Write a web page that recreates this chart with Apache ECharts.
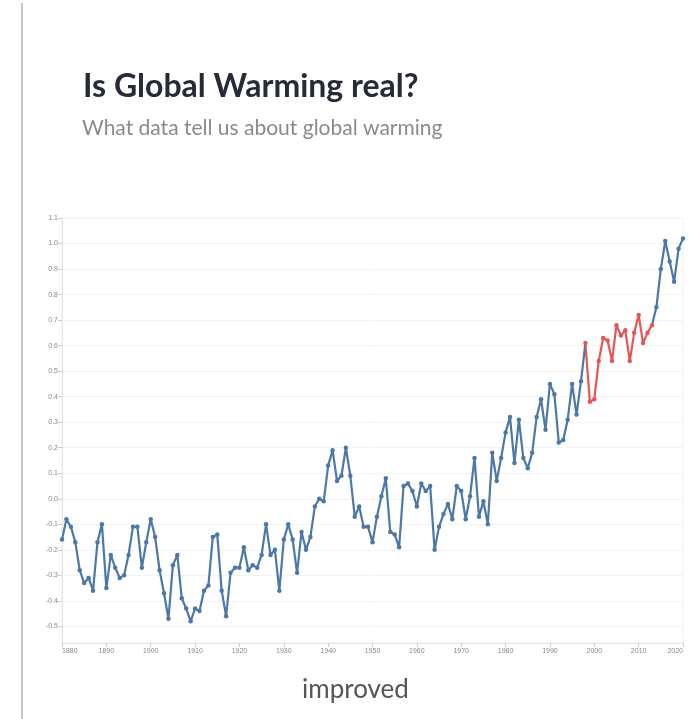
<!DOCTYPE html>
<html>
<head>
    <meta charset="utf-8">
    <script src="https://cdn.jsdelivr.net/npm/echarts@6/dist/echarts.min.js"></script>
    <style>
        html, body { margin: 0; padding: 0; background: #fff; }
    </style>
</head>
<body>
<div id="myChart" style="width: 692px; height: 719px;"></div>

<script type="text/javascript">
    var chart = echarts.init(document.getElementById('myChart'));

    // 年平均气温距平（°C），1880 - 2020
    var startYear = 1880;
    var anomalies = [
        -0.16, -0.08, -0.11, -0.17, -0.28, -0.33, -0.31, -0.36, -0.17, -0.10,
        -0.35, -0.22, -0.27, -0.31, -0.30, -0.22, -0.11, -0.11, -0.27, -0.17,
        -0.08, -0.15, -0.28, -0.37, -0.47, -0.26, -0.22, -0.39, -0.43, -0.48,
        -0.43, -0.44, -0.36, -0.34, -0.15, -0.14, -0.36, -0.46, -0.29, -0.27,
        -0.27, -0.19, -0.28, -0.26, -0.27, -0.22, -0.10, -0.22, -0.20, -0.36,
        -0.16, -0.10, -0.16, -0.29, -0.13, -0.20, -0.15, -0.03, 0.00, -0.01,
        0.13, 0.19, 0.07, 0.09, 0.20, 0.09, -0.07, -0.03, -0.11, -0.11,
        -0.17, -0.07, 0.01, 0.08, -0.13, -0.14, -0.19, 0.05, 0.06, 0.03,
        -0.03, 0.06, 0.03, 0.05, -0.20, -0.11, -0.06, -0.02, -0.08, 0.05,
        0.03, -0.08, 0.01, 0.16, -0.07, -0.01, -0.10, 0.18, 0.07, 0.16,
        0.26, 0.32, 0.14, 0.31, 0.16, 0.12, 0.18, 0.32, 0.39, 0.27,
        0.45, 0.41, 0.22, 0.23, 0.31, 0.45, 0.33, 0.46, 0.61, 0.38,
        0.39, 0.54, 0.63, 0.62, 0.54, 0.68, 0.64, 0.66, 0.54, 0.65,
        0.72, 0.61, 0.65, 0.68, 0.75, 0.90, 1.01, 0.93, 0.85, 0.98,
        1.02
    ];
    var years = anomalies.map(function (v, i) { return startYear + i; });

    // 红色高亮的区间
    var hiatusStart = 1998;
    var hiatusEnd = 2013;

    var yTicks = [-0.5, -0.4, -0.3, -0.2, -0.1, 0.0, 0.1, 0.2, 0.3, 0.4, 0.5, 0.6, 0.7, 0.8, 0.9, 1.0, 1.1];

    var blue = '#4c78a8';
    var red = '#e45756';
    var fontFamily = 'Lato, "Noto Sans", sans-serif';

    var seriesData = years.map(function (y, i) {
        return [y, anomalies[i]];
    });

    var option = {
        animation: false,
        title: [{
            text: 'Is Global Warming real?',
            left: 78,
            top: 66,
            textStyle: {
                fontFamily: fontFamily,
                fontSize: 32,
                fontWeight: 'bold',
                color: '#262b37',
            },
        }, {
            text: 'What data tell us about global warming',
            left: 77,
            top: 113,
            textStyle: {
                fontFamily: fontFamily,
                fontSize: 21,
                fontWeight: 'normal',
                color: '#8a8a8a',
            },
        }, {
            text: 'improved',
            left: 297,
            top: 672,
            textStyle: {
                fontFamily: fontFamily,
                fontSize: 26,
                fontWeight: 'normal',
                color: '#555',
            },
        }],
        graphic: [{
            type: 'line',
            shape: {x1: 22, y1: 3, x2: 22, y2: 719},
            style: {stroke: '#c8c8c8', lineWidth: 2},
        }],
        grid: {
            left: 62,
            right: 9,
            top: 218,
            bottom: 76,
            show: true,
            borderColor: '#f0f0f0',
            borderWidth: 1,
        },
        visualMap: {
            show: false,
            type: 'piecewise',
            dimension: 0,
            seriesIndex: 0,
            pieces: [
                {lt: hiatusStart, color: blue},
                {gte: hiatusStart, lte: hiatusEnd, color: red},
                {gt: hiatusEnd, color: blue},
            ],
        },
        xAxis: {
            type: 'value',
            min: 1880,
            max: 2020,
            interval: 10,
            axisLine: {
                onZero: false,
                lineStyle: {color: '#e4e4e4'},
            },
            axisTick: {
                length: 4,
                lineStyle: {color: '#ccc'},
            },
            splitLine: {show: false},
            axisLabel: {
                fontSize: 7,
                color: '#888',
                margin: 5,
                alignMinLabel: 'left',
                alignMaxLabel: 'right',
                formatter: function (v) { return String(v); },
            },
        },
        yAxis: {
            type: 'value',
            min: -0.565,
            max: 1.1,
            axisLine: {
                show: true,
                lineStyle: {color: '#e4e4e4'},
            },
            axisTick: {
                show: true,
                length: 4,
                customValues: yTicks,
                lineStyle: {color: '#ccc'},
            },
            splitLine: {
                lineStyle: {color: '#f3f3f3'},
            },
            axisLabel: {
                fontSize: 7,
                color: '#888',
                margin: 4,
                customValues: yTicks,
                formatter: function (v) { return v.toFixed(1); },
            },
        },
        series: [{
            type: 'line',
            data: seriesData,
            symbol: 'circle',
            symbolSize: 4.5,
            showAllSymbol: true,
            lineStyle: {width: 2.2},
            z: 3,
        }],
    };

    chart.setOption(option, true);
</script>
</body>
</html>
